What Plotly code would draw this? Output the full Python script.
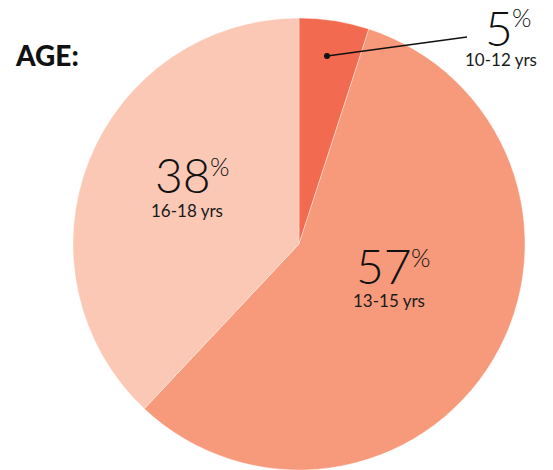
import plotly.graph_objects as go

# Age distribution
age_groups = ["10-12 yrs", "13-15 yrs", "16-18 yrs"]
shares = [5, 57, 38]
slice_colors = ["#F26A4F", "#F79A7C", "#FAC8B5"]

W, H = 553, 470

# pie geometry in pixels
cx, cy, r = 299, 244, 226


def px(x):
    return x / W


def py(y):
    return 1 - y / H


fig = go.Figure(
    go.Pie(
        labels=age_groups,
        values=shares,
        sort=False,
        direction="clockwise",
        rotation=0,
        marker=dict(colors=slice_colors, line=dict(width=0.6, color="rgba(255,255,255,0.6)")),
        textinfo="none",
        hoverinfo="label+percent",
        domain=dict(x=[px(cx - r), px(cx + r)], y=[py(cy + r), py(cy - r)]),
        showlegend=False,
    )
)

num_font = dict(family="Lato, 'Open Sans', sans-serif", size=48, color="#111111", weight=300)
pct_font = dict(family="Lato, 'Open Sans', sans-serif", size=25, color="#111111", weight=300)
sub_font = dict(family="Lato, 'Open Sans', sans-serif", size=17, color="#1a1a1a", weight=400)

# label anchor points (right edge of the number, vertical centre of the digits, centre of sub-label)
label_pos = {
    "10-12 yrs": dict(num=(515, 27), pct=(510, 17), sub=(501, 59)),
    "13-15 yrs": dict(num=(414, 265), pct=(409, 257), sub=(389, 300)),
    "16-18 yrs": dict(num=(213, 174), pct=(208, 166), sub=(187, 210)),
}

annotations = []
for name, val in zip(age_groups, shares):
    p = label_pos[name]
    annotations.append(dict(text=str(val), x=px(p["num"][0]), y=py(p["num"][1]),
                            xref="paper", yref="paper", xanchor="right", yanchor="middle",
                            showarrow=False, font=num_font))
    annotations.append(dict(text="%", x=px(p["pct"][0]), y=py(p["pct"][1]),
                            xref="paper", yref="paper", xanchor="left", yanchor="middle",
                            showarrow=False, font=pct_font))
    annotations.append(dict(text=name, x=px(p["sub"][0]), y=py(p["sub"][1]),
                            xref="paper", yref="paper", xanchor="center", yanchor="middle",
                            showarrow=False, font=sub_font))

annotations.append(dict(text="AGE:", x=px(13), y=py(55), xref="paper", yref="paper",
                        xanchor="left", yanchor="middle", showarrow=False,
                        font=dict(family="Lato, sans-serif", size=28, color="#111111", weight=900)))

shapes = [
    dict(type="line", xref="paper", yref="paper", x0=px(327), y0=py(56), x1=px(467), y1=py(37),
         line=dict(color="#111111", width=1.5)),
    dict(type="circle", xref="paper", yref="paper", x0=px(324), y0=py(53), x1=px(330), y1=py(59),
         fillcolor="#111111", line=dict(width=0)),
]

fig.update_layout(
    width=W, height=H,
    margin=dict(l=0, r=0, t=0, b=0),
    paper_bgcolor="white",
    plot_bgcolor="white",
    annotations=annotations,
    shapes=shapes,
)

fig.write_html("out.html")
